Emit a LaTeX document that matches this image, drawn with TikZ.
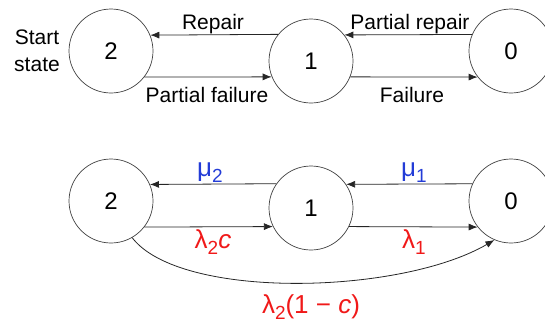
\documentclass[tikz,border=0pt]{standalone}
\usepackage{fontspec}
\setmainfont{Liberation Sans}
\usetikzlibrary{arrows.meta}
\definecolor{rateblue}{RGB}{35,60,215}
\definecolor{ratered}{RGB}{240,25,25}
\newcommand\mysub[1]{\raisebox{-6pt}{\fontsize{19}{21}\selectfont #1}}
\tikzset{
  state/.style={circle,draw=black!75,line width=0.7pt,minimum size=84pt,inner sep=0pt,font=\fontsize{24}{28}\selectfont},
  lbl/.style={font=\fontsize{21}{25}\selectfont,inner sep=0pt},
  rate/.style={font=\fontsize{26}{30}\selectfont,inner sep=0pt},
  trans/.style={draw=black!85,line width=0.8pt,-{Latex[length=9pt,width=7pt]}}
}
\begin{document}
\begin{tikzpicture}[x=1pt,y=-1pt]
\useasboundingbox[clip] (0,0) rectangle (545,327);
% top row
\node[state] (2a) at (111,51) {2};
\node[state] (1a) at (311,61) {1};
\node[state] (0a) at (511,51) {0};
\node[lbl,align=center] (start) at (37,51) {Start\\[2pt]state};
\draw[trans] (1a.{180-asin(26/42)}) -- (2a.{asin(16/42)});
\draw[trans] (2a.{-asin(26/42)}) -- (1a.{180+asin(16/42)});
\draw[trans] (0a.{180-asin(16/42)}) -- (1a.{asin(26/42)});
\draw[trans] (1a.{-asin(16/42)}) -- (0a.{180+asin(26/42)});
\node[lbl,anchor=base] (rep) at (213,29) {Repair};
\node[lbl,anchor=base] (pf) at (207,102) {Partial failure};
\node[lbl,anchor=base] (pr) at (410,29) {Partial repair};
\node[lbl,anchor=base] (fl) at (412,102) {Failure};
% bottom row
\node[state] (2b) at (111,201) {2};
\node[state] (1b) at (311,208) {1};
\node[state] (0b) at (511,201) {0};
\draw[trans] (1b.{180-asin(24/42)}) -- (2b.{asin(17/42)});
\draw[trans] (2b.{-asin(26/42)}) -- (1b.{180+asin(19/42)});
\draw[trans] (0b.{180-asin(17/42)}) -- (1b.{asin(24/42)});
\draw[trans] (1b.{-asin(19/42)}) -- (0b.{180+asin(26/42)});
\draw[trans] (2b.-60) .. controls (180,300) and (400,295) .. (0b.-113);
\node[rate,text=rateblue,anchor=base] (mu2) at (210,176) {μ\mysub{2}};
\node[rate,text=rateblue,anchor=base] (mu1) at (414,176) {μ\mysub{1}};
\node[rate,text=ratered,anchor=base] (l2c) at (213,248) {λ\mysub{2}\textit{c}};
\node[rate,text=ratered,anchor=base] (l1) at (414,248) {λ\mysub{1}};
\node[rate,text=ratered,anchor=base] (l2nc) at (311,313) {λ\mysub{2}(1 − \textit{c})};
\end{tikzpicture}
\end{document}
